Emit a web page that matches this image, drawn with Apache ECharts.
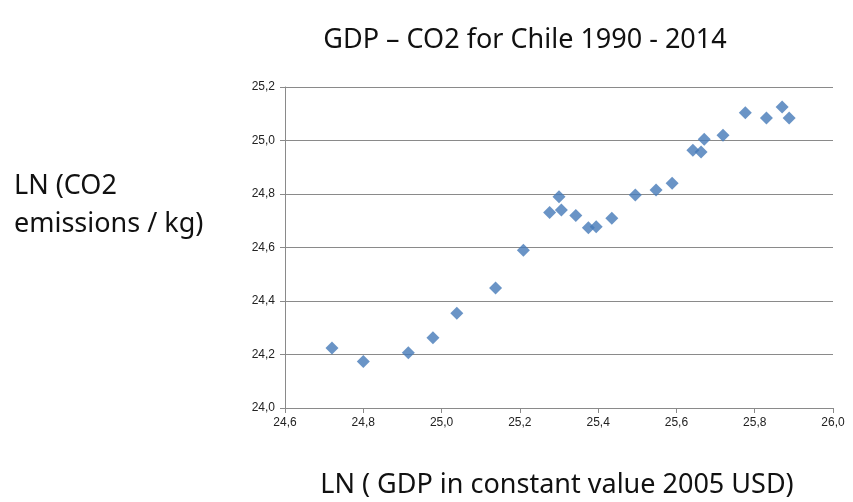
<!DOCTYPE html>
<html>
<head>
<meta charset="utf-8">
<script src="https://cdn.jsdelivr.net/npm/echarts@6/dist/echarts.min.js"></script>
<style>
  html, body { margin: 0; padding: 0; background: #fff; }
  #chart { width: 853px; height: 502px; }
</style>
</head>
<body>
<div id="chart"></div>
<script>
// LN(GDP) and LN(CO2) per year, 1990 - 2014
const lnGdp = [24.72, 24.80, 24.915, 24.978, 25.039, 25.138, 25.209, 25.276, 25.300, 25.306,
  25.343, 25.375, 25.395, 25.435, 25.495, 25.548, 25.589, 25.642, 25.663, 25.671,
  25.719, 25.776, 25.830, 25.870, 25.888]
const lnCo2 = [24.224, 24.174, 24.207, 24.263, 24.354, 24.449, 24.590, 24.731, 24.790, 24.740,
  24.720, 24.674, 24.678, 24.709, 24.796, 24.815, 24.840, 24.964, 24.957, 25.005,
  25.020, 25.104, 25.084, 25.125, 25.084]

const points = lnGdp.map((x, i) => [x, lnCo2[i]])

// 1 decimal, with comma like the original
const fmt = (v) => v.toFixed(1).replace('.', ',')

const chart = echarts.init(document.getElementById('chart'))
const axisGray = '#8a8a8a'
const font = '"Noto Sans", "Open Sans", sans-serif'

chart.setOption({
  animation: false,
  title: {
    text: 'GDP – CO2 for Chile 1990 - 2014',
    left: 520,
    top: 22,
    textAlign: 'center',
    textStyle: { fontFamily: font, fontSize: 27, fontWeight: 'normal', color: '#111' }
  },
  grid: { left: 285, right: 20, top: 87, bottom: 94 },
  xAxis: {
    type: 'value',
    min: 24.6,
    max: 26.0,
    interval: 0.2,
    splitLine: { show: false },
    axisLine: { show: true, lineStyle: { color: axisGray } },
    axisTick: { show: true, length: 5, lineStyle: { color: axisGray } },
    axisLabel: { formatter: fmt, color: '#222', fontSize: 12, fontFamily: 'Liberation Sans', margin: 9 }
  },
  yAxis: {
    type: 'value',
    min: 24.0,
    max: 25.2,
    interval: 0.2,
    splitLine: { show: true, lineStyle: { color: axisGray, width: 1 } },
    axisLine: { show: true, lineStyle: { color: axisGray } },
    axisTick: { show: true, length: 5, lineStyle: { color: axisGray } },
    axisLabel: { formatter: fmt, color: '#222', fontSize: 12, fontFamily: 'Liberation Sans', margin: 10 }
  },
  graphic: [
    {
      type: 'text',
      x: 14,
      y: 167,
      style: {
        text: 'LN (CO2\nemissions / kg)',
        font: '27px ' + font,
        fill: '#111',
        lineHeight: 38
      }
    },
    {
      type: 'text',
      x: 557,
      y: 485,
      style: {
        text: 'LN ( GDP in constant value 2005 USD)',
        font: '27px ' + font,
        fill: '#111',
        align: 'center',
        verticalAlign: 'middle'
      }
    }
  ],
  series: [
    {
      type: 'scatter',
      symbol: 'diamond',
      symbolSize: 13,
      itemStyle: { color: '#4579b8' },
      data: points
    }
  ]
})
</script>
</body>
</html>
